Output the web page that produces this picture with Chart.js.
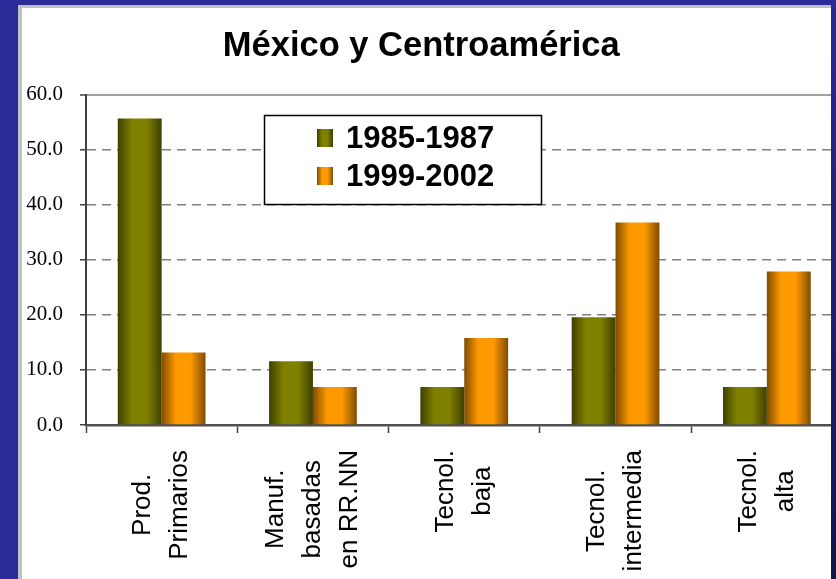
<!DOCTYPE html>
<html>
<head>
<meta charset="utf-8">
<script src="https://cdn.jsdelivr.net/npm/chart.js@4"></script>
<style>
  body { margin: 0; width: 836px; height: 579px; overflow: hidden; background: #2a2a98; position: relative; }
  #panel { position: absolute; left: 18px; top: 5px; width: 813px; height: 600px; background: #fff;
           border-left: 4px solid #c0c0c8; border-top: 3px solid #c0c0c8; box-sizing: border-box; }
  #edge { position: absolute; left: 831px; top: 0; width: 5px; height: 579px; background: linear-gradient(#2a2a98, #14144e); }
  #chart { position: absolute; left: 0; top: 0; }
</style>
</head>
<body>
<div id="panel"></div>
<canvas id="chart" width="850" height="579"></canvas>
<div id="edge"></div>
<script>
const categories = [['Prod.', 'Primarios'], ['Manuf.', 'basadas', 'en RR.NN'], ['Tecnol.', 'baja'], ['Tecnol.', 'intermedia'], ['Tecnol.', 'alta']];
const seriesNames = ['1985-1987', '1999-2002'];
const values1985 = [55.7, 11.6, 6.9, 19.6, 6.9];
const values1999 = [13.2, 6.9, 15.8, 36.8, 27.9];
const yTicks = [0, 10, 20, 30, 40, 50, 60];

const sans = '"Liberation Sans", Arial, sans-serif';
const catPct = 0.58;
const shades = [['#3f3f00', '#808000'], ['#7f4c00', '#ff9900']];

function fillGradient(ctx, left, width, pair) {
    const g = ctx.createLinearGradient(left, 0, left + width, 0);
    g.addColorStop(0, pair[0]);
    g.addColorStop(0.32, pair[1]);
    g.addColorStop(0.66, pair[1]);
    g.addColorStop(1, pair[0]);
    return g;
}

function barColor(c) {
    const pair = shades[c.datasetIndex];
    const chart = c.chart;
    const x = chart.scales.x;
    if (!chart.chartArea || !x || c.dataIndex === undefined) return pair[1];
    const group = x.width / categories.length * catPct;
    const bw = group / 2;
    const left = x.getPixelForValue(c.dataIndex) - group / 2 + c.datasetIndex * bw;
    return fillGradient(chart.ctx, left, bw, pair);
}

const customText = {
    id: 'customText',
    afterDraw(chart) {
        const ctx = chart.ctx;
        const x = chart.scales.x;
        ctx.save();
        // category labels, rotated and centred like the original
        ctx.font = '26px ' + sans;
        ctx.fillStyle = '#000';
        ctx.textAlign = 'center';
        ctx.textBaseline = 'middle';
        chart.data.labels.forEach((lines, i) => {
            const cx = x.getPixelForValue(i);
            const maxW = Math.max(...lines.map(l => ctx.measureText(l).width));
            const cy = 450 + maxW / 2;
            ctx.save();
            ctx.translate(cx, cy);
            ctx.rotate(-Math.PI / 2);
            lines.forEach((l, j) => ctx.fillText(l, 0, (j - (lines.length - 1) / 2) * 37));
            ctx.restore();
        });

        // legend box
        ctx.fillStyle = '#fff';
        ctx.fillRect(264, 115, 278, 90);
        ctx.strokeStyle = '#000';
        ctx.lineWidth = 1.5;
        ctx.strokeRect(264.5, 115.5, 277, 89);
        ctx.font = 'bold 31px ' + sans;
        ctx.textAlign = 'left';
        chart.data.datasets.forEach((ds, i) => {
            const y = 138 + i * 38;
            ctx.fillStyle = fillGradient(ctx, 317, 16, shades[i]);
            ctx.fillRect(317, y - 9, 16, 18);
            ctx.fillStyle = '#000';
            ctx.fillText(ds.label, 346, y + 1);
        });
        ctx.restore();
    }
};

new Chart(document.getElementById('chart'), {
    type: 'bar',
    data: {
        labels: categories,
        datasets: [
            { label: seriesNames[0], data: values1985, backgroundColor: barColor, borderWidth: 0 },
            { label: seriesNames[1], data: values1999, backgroundColor: barColor, borderWidth: 0 }
        ]
    },
    options: {
        responsive: false,
        animation: false,
        layout: { padding: { top: 0, left: 0, right: 7.5, bottom: 146 } },
        datasets: { bar: { categoryPercentage: catPct, barPercentage: 1 } },
        plugins: {
            legend: { display: false },
            tooltip: { enabled: false },
            title: {
                display: true,
                text: 'México y Centroamérica',
                color: '#000',
                font: { family: sans, size: 34.5, weight: 'bold' },
                padding: { top: 26, bottom: 27.5 }
            }
        },
        scales: {
            x: {
                ticks: { display: false },
                grid: { offset: true, drawOnChartArea: false, drawTicks: true, tickLength: 8, tickColor: '#404040', tickWidth: 1.5 },
                border: { color: '#505050', width: 2.5 }
            },
            y: {
                min: yTicks[0],
                max: yTicks[yTicks.length - 1],
                afterBuildTicks: s => { s.ticks = yTicks.map(v => ({ value: v })); },
                afterFit: s => { s.width = 86; },
                ticks: {
                    padding: 17,
                    color: '#000',
                    font: { family: '"Liberation Serif", "Times New Roman", serif', size: 21 },
                    callback: v => v.toFixed(1)
                },
                grid: {
                    color: c => c.tick && c.tick.value === 60 ? '#a0a0a0' : '#808080',
                    lineWidth: c => c.tick && c.tick.value === 60 ? 2 : 1.5,
                    tickLength: 6,
                    tickColor: '#404040',
                    tickWidth: 1.5,
                    tickBorderDash: []
                },
                border: {
                    color: '#404040',
                    width: 2,
                    dash: c => c.tick && c.tick.value !== 60 ? [9, 6] : []
                }
            }
        }
    },
    plugins: [customText]
});
</script>
</body>
</html>
